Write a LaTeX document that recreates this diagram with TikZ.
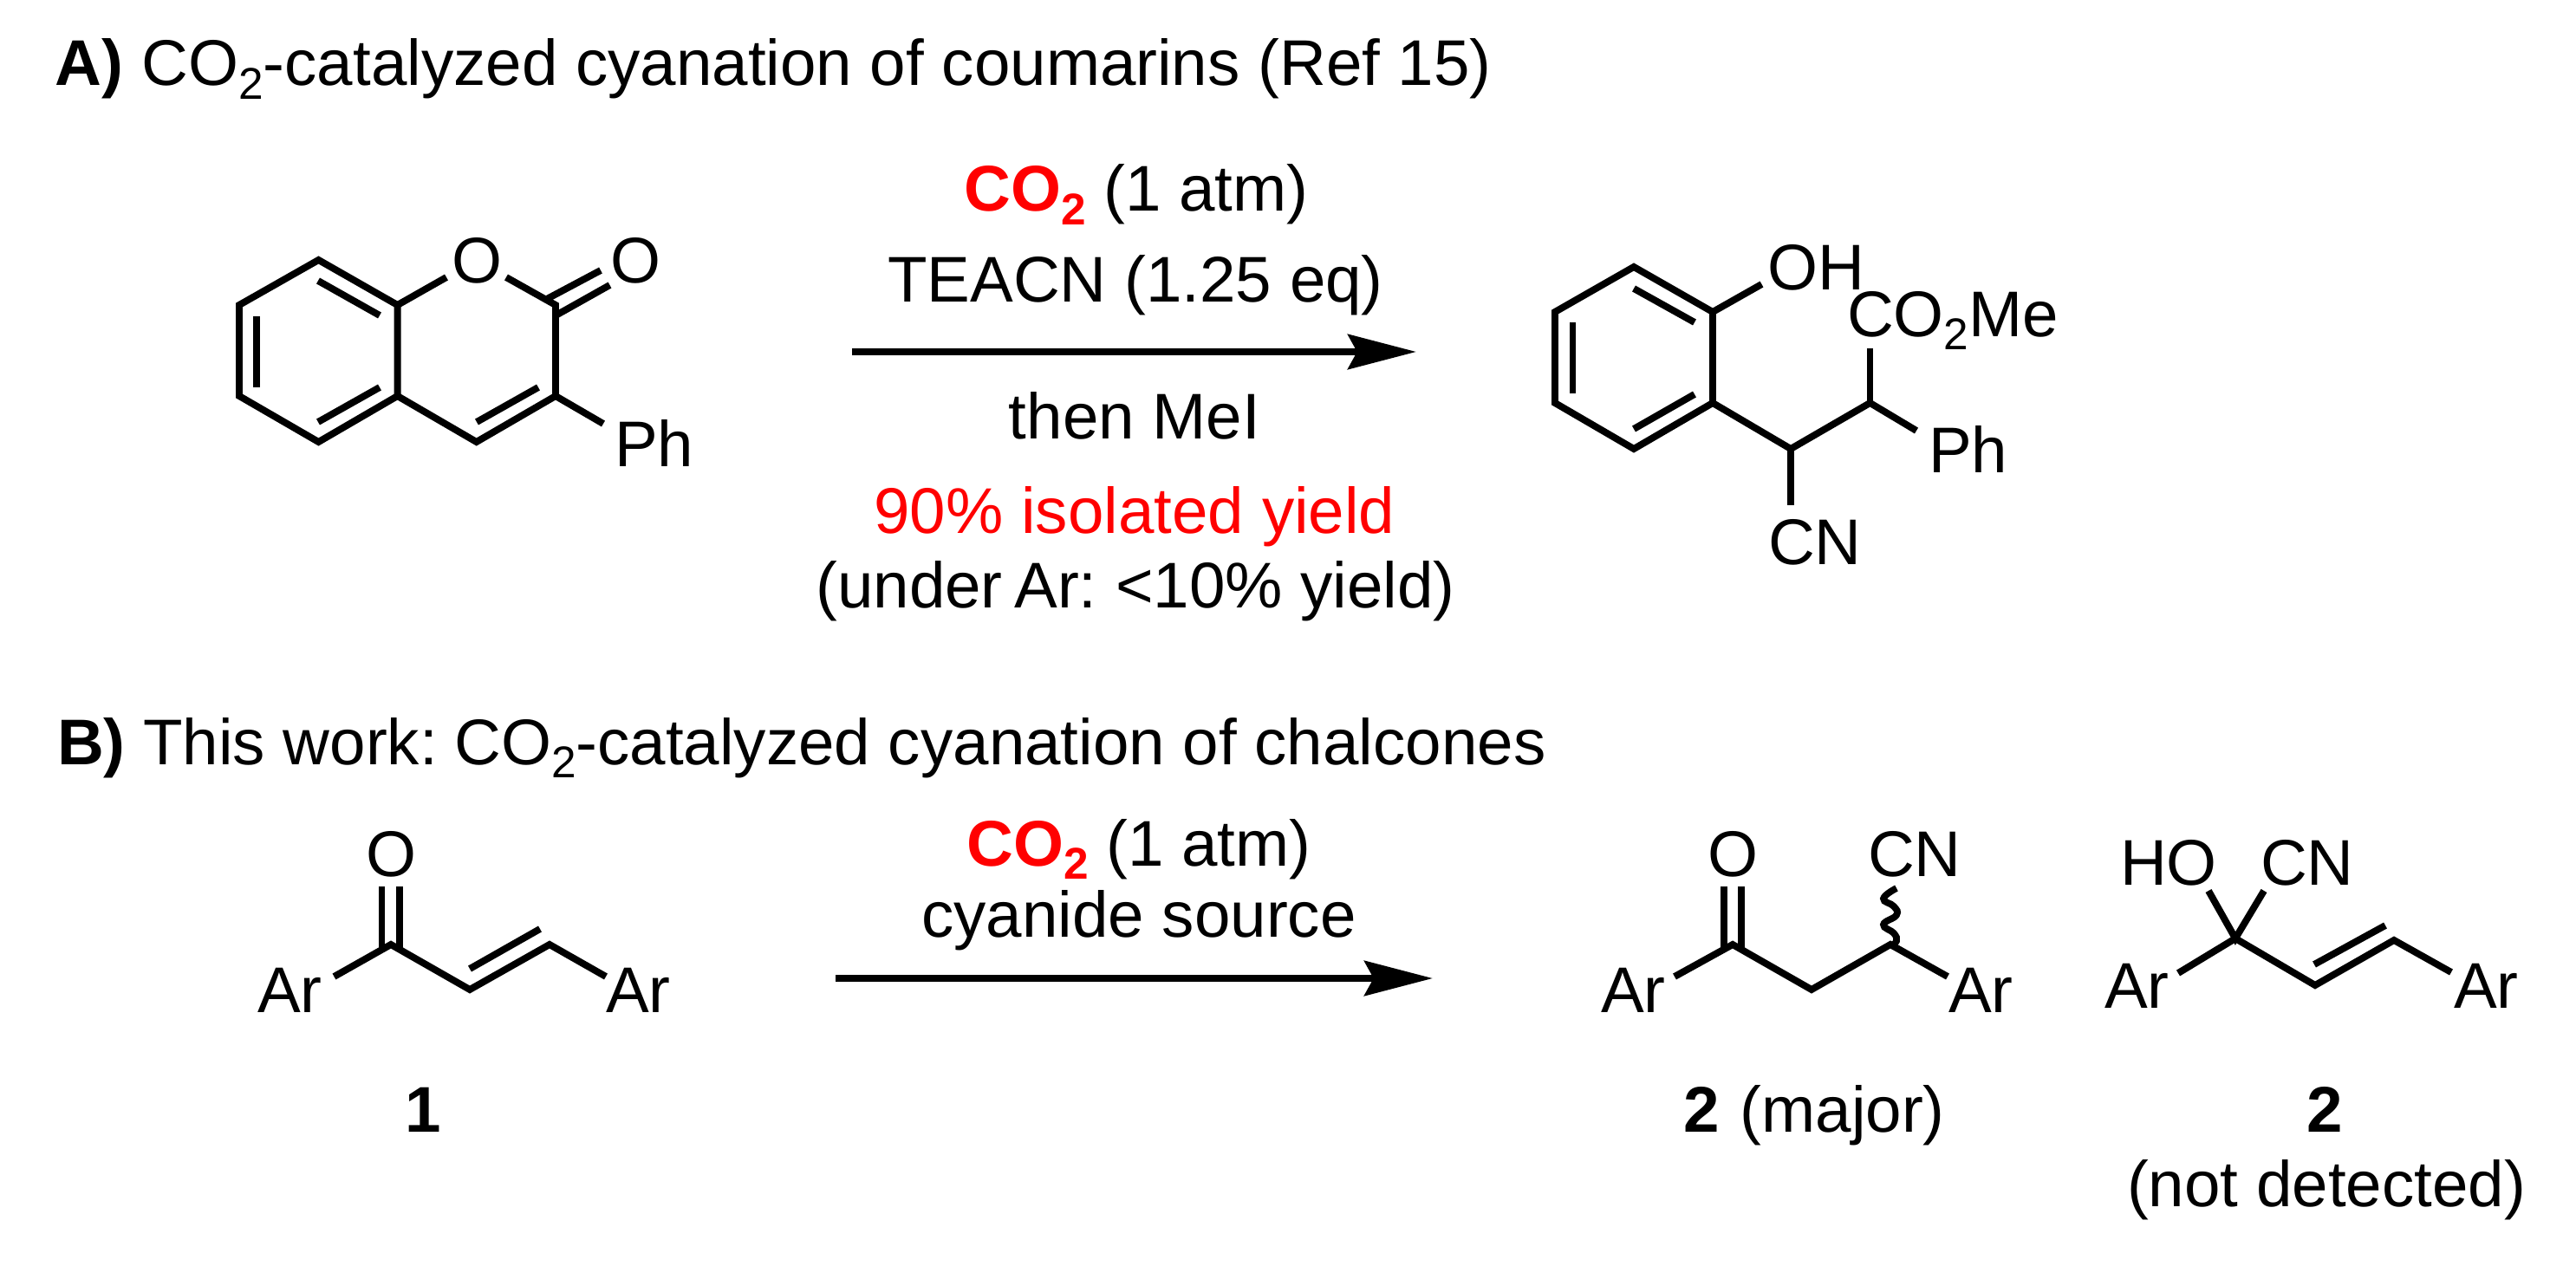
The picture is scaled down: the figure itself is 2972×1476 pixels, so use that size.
\documentclass[tikz,border=0pt]{standalone}
\usepackage{fontspec}
\setmainfont{Liberation Sans}
\usetikzlibrary{arrows.meta}
\definecolor{hl}{RGB}{255,0,0}
\newcommand{\subtwo}{\raisebox{-4.5pt}{\fontsize{14.6}{16}\selectfont 2}}
\tikzset{
  lbl/.style={inner sep=0pt,outer sep=0pt,anchor=base west,font=\fontsize{21.2}{25}\selectfont},
  ctr/.style={inner sep=0pt,outer sep=0pt,anchor=base,font=\fontsize{21.2}{25}\selectfont},
  bond/.style={line width=2.25pt,line join=miter,miter limit=10,line cap=butt},
  rxn/.style={line width=2.4pt,-{Stealth[length=22.4pt,width=11.4pt,inset=3pt]}}
}
\begin{document}
\begin{tikzpicture}[x=0.01cm,y=-0.01cm]
\useasboundingbox (0,0) rectangle (2972,1476);
% headings
\node[lbl] (headA) at (64,99) {\textbf{A)} CO\subtwo-catalyzed cyanation of coumarins (Ref 15)};
\node[lbl] (headB) at (66,882) {\textbf{B)} This work:\kern-2.4pt{} CO\subtwo-catalyzed cyanation of chalcones};
% conditions A
\node[ctr] (a1) at (1311,244) {\textcolor{hl}{\textbf{CO\subtwo}} (1 atm)};
\node[ctr] (a2) at (1310,348) {TEACN (1.25 eq)};
\node[ctr] (a3) at (1309,506) {then MeI};
\node[ctr,text=hl] (a4) at (1309,615) {90\% isolated yield};
\node[ctr] (a5) at (1310,701) {(under\kern-2pt{} Ar:\kern-1.8pt{} <10\% yield)};
\coordinate (arA1) at (983,406); \coordinate (arA2) at (1634,406);
\draw[rxn] (arA1) -- (arA2);
% conditions B
\node[ctr] (b1) at (1314,999) {\textcolor{hl}{\textbf{CO\subtwo}} (1 atm)};
\node[ctr] (b2) at (1314,1081) {cyanide source};
\coordinate (arB1) at (964,1129); \coordinate (arB2) at (1653,1129);
\draw[rxn] (arB1) -- (arB2);
% coumarin
\coordinate (c8) at (367.5,300); \coordinate (c8a) at (458.6,352); \coordinate (c4a) at (458.6,457);
\coordinate (c5) at (367.5,510); \coordinate (c6) at (276,457); \coordinate (c7) at (276,352);
\coordinate (c2) at (641,352); \coordinate (c3) at (641,457); \coordinate (c4) at (549.7,510);
\coordinate (o1a) at (515,320); \coordinate (o1b) at (584,320); \coordinate (phe) at (696,489);
\node[ctr] (cO1) at (550,327) {O};
\node[ctr] (cO2) at (733,327) {O};
\node[lbl] (cPh) at (709,538) {Ph};
\draw[bond] (c8) -- (c8a) -- (c4a) -- (c5) -- (c6) -- (c7) -- cycle;
\draw[bond] (o1a) -- (c8a);
\draw[bond] (c4a) -- (c4) -- (c3) -- (c2) -- (o1b);
\draw[bond] (c3) -- (phe);
\coordinate (d1) at (367,324); \coordinate (d2) at (438,364); \draw[bond] (d1) -- (d2);
\coordinate (d3) at (296,365); \coordinate (d4) at (296,447); \draw[bond] (d3) -- (d4);
\coordinate (d5) at (367,487); \coordinate (d6) at (438,447); \draw[bond] (d5) -- (d6);
\coordinate (d7) at (550,487); \coordinate (d8) at (621,447); \draw[bond] (d7) -- (d8);
\coordinate (d9) at (631,345); \coordinate (d10) at (693,312); \draw[bond] (d9) -- (d10);
\coordinate (d11) at (643,363); \coordinate (d12) at (703.5,329); \draw[bond] (d11) -- (d12);
% product A
\coordinate (p1) at (1885,308); \coordinate (p2) at (1976,360); \coordinate (p3) at (1976,465);
\coordinate (p4) at (1885,518); \coordinate (p5) at (1794,465); \coordinate (p6) at (1794,360);
\coordinate (p7) at (2066,518); \coordinate (p8) at (2157.5,465); \coordinate (pPhE) at (2211,497);
\coordinate (pCNE) at (2066,583); \coordinate (pEsE) at (2157.5,402); \coordinate (pOHE) at (2032.5,328);
\draw[bond] (p1) -- (p2) -- (p3) -- (p4) -- (p5) -- (p6) -- cycle;
\draw[bond] (p2) -- (pOHE);
\draw[bond] (p3) -- (p7) -- (p8) -- (pPhE);
\draw[bond] (p7) -- (pCNE);
\draw[bond] (p8) -- (pEsE);
\coordinate (e1) at (1885,333); \coordinate (e2) at (1955,372); \draw[bond] (e1) -- (e2);
\coordinate (e3) at (1814.5,372); \coordinate (e4) at (1814.5,454); \draw[bond] (e3) -- (e4);
\coordinate (e5) at (1885,495); \coordinate (e6) at (1955,455); \draw[bond] (e5) -- (e6);
\node[lbl] (pOH) at (2039,334) {OH};
\node[lbl] (pEs) at (2131,388) {CO\subtwo Me};
\node[lbl] (pPh) at (2225,545) {Ph};
\node[lbl] (pCN) at (2040,651) {CN};
% chalcone 1
\node[ctr] (hO) at (451,1011) {O};
\node[lbl] (hAr1) at (297,1168) {Ar};
\node[lbl] (hAr2) at (699,1168) {Ar};
\coordinate (h1) at (385.5,1127); \coordinate (h2) at (451,1090); \coordinate (h3) at (542,1142);
\coordinate (h4) at (634,1090); \coordinate (h5) at (699,1127);
\draw[bond] (h1) -- (h2) -- (h3) -- (h4) -- (h5);
\coordinate (h6) at (440.5,1023); \coordinate (h7) at (440.5,1096); \draw[bond] (h6) -- (h7);
\coordinate (h8) at (461,1023); \coordinate (h9) at (461,1096); \draw[bond] (h8) -- (h9);
\coordinate (h10) at (542,1118); \coordinate (h11) at (623,1072); \draw[bond] (h10) -- (h11);
\node[ctr] (hL) at (488,1306) {\textbf{1}};
% product 2 major
\node[ctr] (mO) at (1999,1011) {O};
\node[lbl] (mCN) at (2155,1011) {CN};
\node[lbl] (mAr1) at (1847,1168) {Ar};
\node[lbl] (mAr2) at (2248,1168) {Ar};
\coordinate (m1) at (1932,1127); \coordinate (m2) at (1999,1090); \coordinate (m3) at (2090,1142);
\coordinate (m4) at (2181,1090); \coordinate (m5) at (2247,1127);
\draw[bond] (m1) -- (m2) -- (m3) -- (m4) -- (m5);
\coordinate (m6) at (1989,1023); \coordinate (m7) at (1989,1096); \draw[bond] (m6) -- (m7);
\coordinate (m8) at (2009,1023); \coordinate (m9) at (2009,1096); \draw[bond] (m8) -- (m9);
\draw[line width=2.2pt,line cap=butt] plot[smooth,tension=0.8] coordinates
  {(2188,1025) (2173,1037) (2185,1046) (2188,1056) (2173,1067) (2185,1077) (2188,1086) (2181,1092)};
\node[lbl] (mL) at (1942,1306) {\textbf{2}\kern1pt{} (major)};
% product 2 not detected
\node[lbl] (nHO) at (2446,1021) {HO};
\node[lbl] (nCN) at (2608,1021) {CN};
\node[lbl] (nAr1) at (2428,1163) {Ar};
\node[lbl] (nAr2) at (2831,1163) {Ar};
\coordinate (n0) at (2579,1083); \coordinate (n1) at (2513,1123); \coordinate (n2) at (2671,1137);
\coordinate (n3) at (2762,1085); \coordinate (n4) at (2828,1122);
\coordinate (n5) at (2548,1028); \coordinate (n6) at (2612,1028);
\draw[bond] (n1) -- (n0) -- (n2) -- (n3) -- (n4);
\draw[bond] (n5) -- (n0) -- (n6);
\coordinate (n7) at (2670,1113); \coordinate (n8) at (2752,1068); \draw[bond] (n7) -- (n8);
\node[ctr] (nL) at (2682,1306) {\textbf{2}};
\node[ctr] (nL2) at (2684,1392) {(not detected)};
\end{tikzpicture}
\end{document}
